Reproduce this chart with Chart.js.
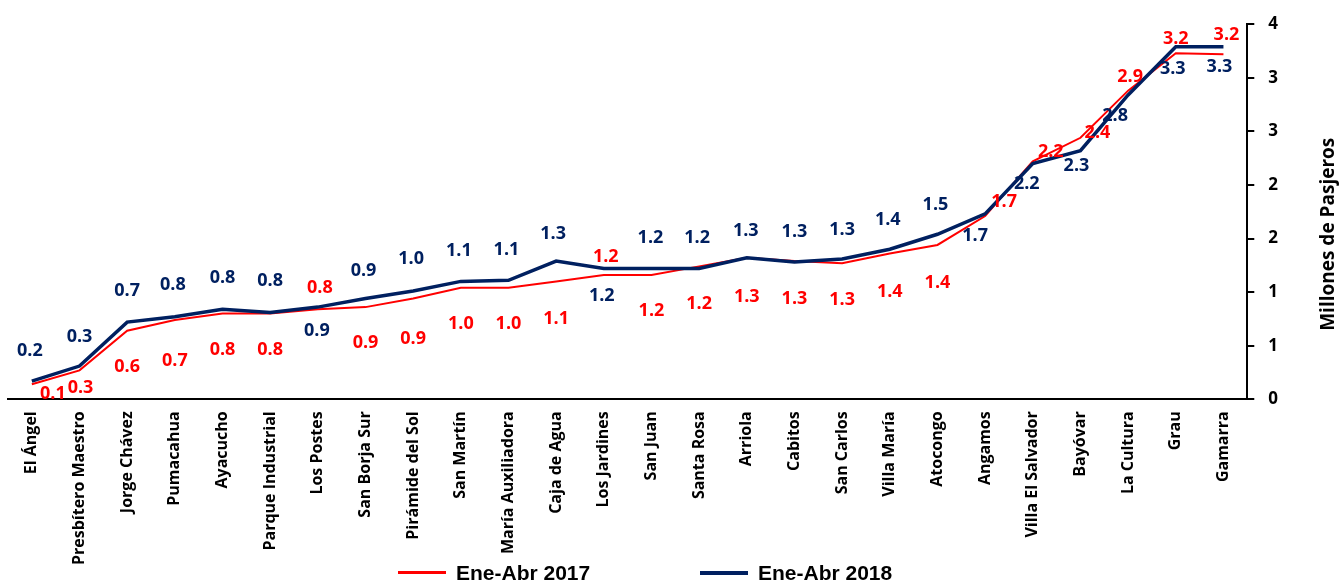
<!DOCTYPE html>
<html>
<head>
<meta charset="utf-8">
<title>Pasajeros por estación</title>
<script src="https://cdn.jsdelivr.net/npm/chart.js@4.4.0/dist/chart.umd.min.js"></script>
<style>
  html, body { margin: 0; padding: 0; background: #fff; }
  #wrap { position: relative; width: 1342px; height: 585px; overflow: hidden; }
  #lineChart { position: absolute; left: 0; top: 0; }
  #legend { position: absolute; left: 0; top: 560px; width: 1342px; height: 25px;
            font: bold 21px "Liberation Sans", Arial, sans-serif; color: #000; }
  .item { position: absolute; top: 0; display: flex; align-items: center; height: 25px; }
  .swatch { display: inline-block; width: 48px; margin-right: 10px; }
</style>
</head>
<body>
<div id="wrap">
  <canvas id="lineChart" width="1342" height="579"></canvas>
  <div id="legend">
    <div class="item" style="left:398px"><span class="swatch" style="border-top:3px solid #FF0000"></span>Ene-Abr 2017</div>
    <div class="item" style="left:700px"><span class="swatch" style="border-top:4px solid #002060"></span>Ene-Abr 2018</div>
  </div>
</div>
<script>
var estaciones = ['El Ángel', 'Presbítero Maestro', 'Jorge Chávez', 'Pumacahua', 'Ayacucho',
  'Parque Industrial', 'Los Postes', 'San Borja Sur', 'Pirámide del Sol', 'San Martín',
  'María Auxiliadora', 'Caja de Agua', 'Los Jardines', 'San Juan', 'Santa Rosa', 'Arriola',
  'Cabitos', 'San Carlos', 'Villa María', 'Atocongo', 'Angamos', 'Villa El Salvador',
  'Bayóvar', 'La Cultura', 'Grau', 'Gamarra'];

// millones de pasajeros
var pasajeros2017 = [0.14, 0.27, 0.64, 0.74, 0.80, 0.80, 0.84, 0.86, 0.94, 1.04,
  1.04, 1.10, 1.16, 1.16, 1.24, 1.32, 1.29, 1.27, 1.36, 1.44,
  1.71, 2.22, 2.44, 2.88, 3.23, 3.22];
var pasajeros2018 = [0.17, 0.31, 0.72, 0.77, 0.84, 0.81, 0.86, 0.94, 1.01, 1.10,
  1.11, 1.29, 1.22, 1.22, 1.22, 1.32, 1.28, 1.31, 1.40, 1.54,
  1.73, 2.20, 2.32, 2.84, 3.29, 3.29];

// desplazamiento de las etiquetas de valor (px)
var dy2017 = [10, 18, 36, 41, 36, 36, -21, 36, 40, 36, 36, 37, -18, 36, 37, 39, 38, 37, 38, 38,
  -14, -9, -5, -14, -14, -19];
var dx2017 = [21, 1, 0, 0, 0, 0, 2, 0, 0, 0, 0, 0, 2, 0, 0, 0, 0, 0, 0, 0,
  19, 18, 17, 2, 0, 3];
var dy2018 = [-30, -29, -31, -32, -31, -32, 24, -28, -32, -31, -30, -27, 27, -31, -31, -27, -30, -29, -29, -29,
  22, 20, 15, 21, 22, 20];
var dx2018 = [-2, 0, 0, -2, 0, 0, -1, -2, -2, -2, -2, -3, -2, -1, -2, -1, 0, 0, -2, -2,
  -10, -6, -4, -13, -3, -4];

var ROJO = '#FF0000';
var AZUL = '#002060';

var etiquetasValor = {
  id: 'etiquetasValor',
  afterDatasetsDraw: function(chart) {
    var ctx = chart.ctx;
    ctx.save();
    ctx.font = 'bold 18px "Open Sans", sans-serif';
    ctx.textAlign = 'center';
    ctx.textBaseline = 'middle';
    chart.data.datasets.forEach(function(ds, di) {
      var meta = chart.getDatasetMeta(di);
      meta.data.forEach(function(pt, i) {
        ctx.fillStyle = ds.borderColor;
        ctx.fillText(ds.data[i].toFixed(1), pt.x + ds.dx[i], pt.y + ds.dy[i]);
      });
    });
    ctx.restore();
  }
};

var tituloEje = {
  id: 'tituloEje',
  afterDraw: function(chart) {
    var ctx = chart.ctx;
    var y = chart.scales.y;
    ctx.save();
    ctx.font = 'bold 19px "Open Sans", sans-serif';
    ctx.fillStyle = '#000';
    ctx.textAlign = 'center';
    ctx.textBaseline = 'middle';
    ctx.translate(chart.width - 13, y.bottom - 165);
    ctx.rotate(-Math.PI / 2);
    ctx.fillText('Millones de Pasjeros', 0, 0);
    ctx.restore();
  }
};

new Chart(document.getElementById('lineChart'), {
  type: 'line',
  data: {
    labels: estaciones,
    datasets: [{
      label: 'Ene-Abr 2017',
      data: pasajeros2017,
      borderColor: ROJO,
      backgroundColor: ROJO,
      borderWidth: 2,
      pointRadius: 0,
      tension: 0,
      yAxisID: 'y2',
      order: 2,
      dx: dx2017,
      dy: dy2017
    }, {
      label: 'Ene-Abr 2018',
      data: pasajeros2018,
      borderColor: AZUL,
      backgroundColor: AZUL,
      borderWidth: 3.5,
      pointRadius: 0,
      tension: 0,
      yAxisID: 'y2',
      order: 1,
      dx: dx2018,
      dy: dy2018
    }]
  },
  options: {
    responsive: false,
    animation: false,
    layout: { padding: { left: 8, top: 19, right: 50, bottom: 2 } },
    plugins: {
      legend: { display: false },
      tooltip: { enabled: false }
    },
    scales: {
      x: {
        offset: true,
        grid: { display: false, drawTicks: false },
        border: { color: '#000', width: 2 },
        ticks: {
          color: '#000',
          font: { family: 'Open Sans', weight: 'bold', size: 16 },
          minRotation: 90,
          maxRotation: 90,
          padding: 12,
          autoSkip: false
        }
      },
      y: {
        position: 'right',
        min: 0,
        max: 4,
        grid: { drawOnChartArea: false, color: '#000', lineWidth: 2, tickLength: 7 },
        border: { color: '#000', width: 2 },
        ticks: {
          count: 8,
          color: '#000',
          padding: 14,
          font: { family: 'Open Sans', weight: 'bold', size: 17 },
          callback: function(v) { return Math.round(v); }
        }
      },
      y2: {
        display: false,
        position: 'right',
        min: 0,
        max: 3.5
      }
    }
  },
  plugins: [etiquetasValor, tituloEje]
});
</script>
</body>
</html>
